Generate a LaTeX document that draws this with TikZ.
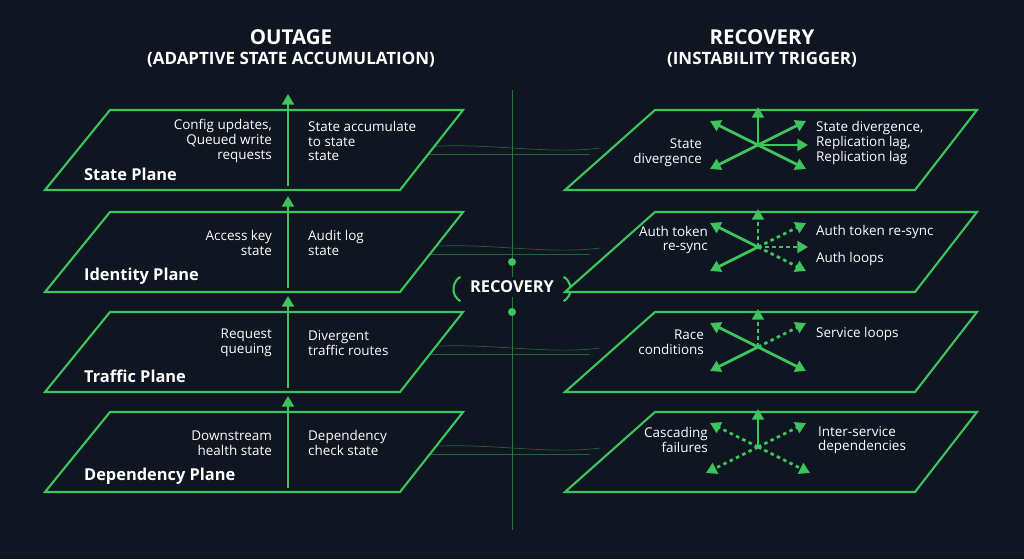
\documentclass[tikz,border=0pt]{standalone}
\usepackage{fontspec}
\setmainfont{Open Sans}
\usetikzlibrary{arrows.meta,calc,positioning}
\definecolor{bg}{RGB}{15,21,33}
\definecolor{neon}{RGB}{62,196,92}
\definecolor{neondark}{RGB}{40,120,60}
\tikzset{
  plane/.style={draw=neon, line width=1.8pt, fill=bg},
  lbl/.style={text=white, font=\fontsize{11.5}{12.5}\selectfont, align=right, anchor=east},
  rlbl/.style={text=white, font=\fontsize{11.5}{12.5}\selectfont, align=left, anchor=west},
  pname/.style={text=white, font=\bfseries\fontsize{14}{16}\selectfont, anchor=west},
  up/.style={neon, line width=2.4pt, -{Triangle[length=9pt,width=10pt]}},
  burst/.style={neon, line width=2.4pt, -{Triangle[length=9pt,width=10pt]}},
  dburst/.style={burst, dash pattern=on 3pt off 3pt},
  wire/.style={neondark, line width=0.6pt, opacity=0.8}
}
\begin{document}
\begin{tikzpicture}[x=0.3mm, y=-0.3mm]
\fill[bg] (0,0) rectangle (1024,559);
\useasboundingbox (0,0) rectangle (1024,559);

% titles
\node[text=white, font=\bfseries\fontsize{17.5}{20}\selectfont, align=center] (tout) at (291,48)
  {OUTAGE\\[-3pt]{\fontsize{14.5}{16}\selectfont(ADAPTIVE STATE ACCUMULATION)}};
\node[text=white, font=\bfseries\fontsize{17.5}{20}\selectfont, align=center] (trec) at (762,48)
  {RECOVERY\\[-3pt]{\fontsize{14.5}{16}\selectfont(INSTABILITY TRIGGER)}};

% centre spine
\coordinate (stop) at (512,90);
\coordinate (sbot) at (512,530);
\draw[neondark, line width=0.8pt] (stop) -- (sbot);
\foreach \y in {150,250,350,450} {
  \draw[wire] (400,\y) .. controls (470,\y-12) and (540,\y+6) .. (600,\y-2);
  \draw[wire] (400,\y+4) -- (590,\y+4);
}
\node[text=white, font=\bfseries\fontsize{14}{16}\selectfont, fill=bg, inner xsep=6pt] (rec) at (512,287) {RECOVERY};
\draw[neon, line width=1.8pt] ([xshift=-2pt]rec.north west) arc[start angle=120, end angle=240, radius=12pt];
\draw[neon, line width=1.8pt] ([xshift=2pt]rec.north east) arc[start angle=60, end angle=-60, radius=12pt];
\fill[neon] (512,262) circle (4);
\fill[neon] (512,312) circle (4);

% left planes
\foreach \y/\name/\a/\b [count=\i] in {
  110/State Plane/{Config updates,\\Queued write\\requests}/{State accumulate\\to state\\state},
  212/Identity Plane/{Access key\\state}/{Audit log\\state},
  312/Traffic Plane/{Request\\queuing}/{Divergent\\traffic routes},
  412/Dependency Plane/{Downstream\\health state}/{Dependency\\check state}} {
  \draw[plane] (110,\y) coordinate (L\i) -- (463,\y) -- (400,\y+80) -- (45,\y+80) -- cycle;
  \node[pname] (ln\i) at (80,\y+64) {\name};
  \coordinate (ab\i) at (288,\y+76);
  \draw[up] (ab\i) -- ++(0,-92);
  \node[lbl] (la\i) at (276,\y+31) {\a};
  \node[rlbl] (lb\i) at (304,\y+31) {\b};
}

% right planes
\foreach \y [count=\i] in {110,212,312,412} {
  \draw[plane] (655,\y) coordinate (R\i) -- (977,\y) -- (915,\y+80) -- (565,\y+80) -- cycle;
  \coordinate (c\i) at (758,\y+35);
}
% bursts
\draw[burst] (c1) -- ++(0,-38);
\foreach \dx/\dy in {-48/-24,-48/24,48/-24,50/0,48/24} \draw[burst] (c1) -- ++(\dx,\dy);
\draw[dburst] (c2) -- ++(0,-38);
\foreach \dx/\dy in {-48/-24,-48/24} \draw[burst] (c2) -- ++(\dx,\dy);
\foreach \dx/\dy in {48/-24,50/0,48/24} \draw[dburst] (c2) -- ++(\dx,\dy);
\draw[dburst] (c3) -- ++(0,-38);
\foreach \dx/\dy in {-48/-24,-48/24,48/24} \draw[burst] (c3) -- ++(\dx,\dy);
\draw[dburst] (c3) -- ++(48,-24);
\draw[burst] (c4) -- ++(0,-38);
\foreach \dx/\dy in {-48/-24,-52/26,48/-24,52/26} \draw[dburst] (c4) -- ++(\dx,\dy);

\node[lbl] (ra1) at (706,153) {State\\divergence};
\node[rlbl] (rb1) at (812,143) {State divergence,\\Replication lag,\\Replication lag};
\node[lbl] (ra2) at (712,240) {Auth token\\re-sync};
\node[rlbl] (rb2) at (812,232) {Auth token re-sync};
\node[rlbl] (rc2) at (812,259) {Auth loops};
\node[lbl] (ra3) at (708,342) {Race\\conditions};
\node[rlbl] (rb3) at (812,334) {Service loops};
\node[lbl] (ra4) at (712,440) {Cascading\\failures};
\node[rlbl] (rb4) at (814,440) {Inter-service\\dependencies};
\end{tikzpicture}
\end{document}
